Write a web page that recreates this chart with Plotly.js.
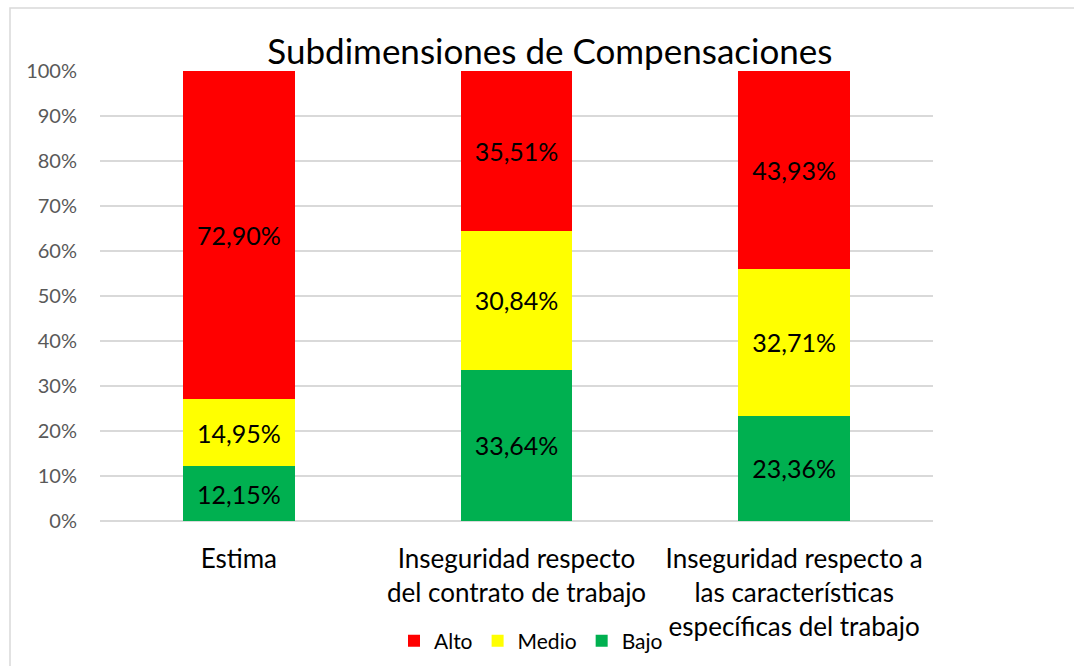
<!DOCTYPE html>
<html><head><meta charset="utf-8">
<script src="https://cdn.plot.ly/plotly-3.0.1.min.js"></script>
<style>body{margin:0;background:#fff}#c{width:1074px;height:666px}</style>
</head><body><div id="c"></div>
<script>
const categories = ["Estima", "Inseguridad respecto<br>del contrato de trabajo", "Inseguridad respecto a<br>las características<br>específicas del trabajo"];
const bajo = [12.15, 33.64, 23.36];
const medio = [14.95, 30.84, 32.71];
const alto = [72.90, 35.51, 43.93];
const tickVals = [0,10,20,30,40,50,60,70,80,90,100];
const tickText = tickVals.map(v => v + "%");
const fmt = a => a.map(v => v.toFixed(2).replace(".", ",") + "%");
const font = "Lato, 'Open Sans', sans-serif";
function tr(name, vals, color){
  return {type:"bar", name:name, x:categories, y:vals, marker:{color:color},
    text:fmt(vals), textposition:"inside", insidetextanchor:"middle",
    textfont:{family:font, size:25, color:"#000"}, hoverinfo:"skip"};
}
const data = [tr("Bajo", bajo, "#00b050"), tr("Medio", medio, "#ffff00"), tr("Alto", alto, "#ff0000")];
const layout = {
  width:1074, height:666, barmode:"stack", bargap:0.597,
  paper_bgcolor:"#fff", plot_bgcolor:"#fff",
  margin:{l:100, r:141, t:71, b:145, autoexpand:false},
  font:{family:font, color:"#000"},
  title:{text:"Subdimensiones de Compensaciones", font:{family:font, size:35, color:"#000"},
    x:0.512, xanchor:"center", y:1-52/666, yanchor:"middle", xref:"container", yref:"container"},
  xaxis:{tickfont:{family:font, size:26, color:"#000"}, showline:false, showgrid:false, ticks:"",
    ticklabelstandoff:20, automargin:false},
  yaxis:{range:[0,100], tickvals:tickVals, ticktext:tickText, tickfont:{family:font, size:20, color:"#595959"},
    gridcolor:"#d9d9d9", gridwidth:1.5, zeroline:true, zerolinecolor:"#d9d9d9", zerolinewidth:1.5,
    showline:false, ticks:"", ticklabelstandoff:22, automargin:false, fixedrange:true},
  legend:{orientation:"h", x:(668-100)/833, xanchor:"right", y:-0.267, yanchor:"middle", traceorder:"reversed",
    font:{family:font, size:21, color:"#000"}, itemwidth:30, bgcolor:"rgba(0,0,0,0)"},
  shapes:[{type:"rect", xref:"paper", yref:"paper", x0:(10-100)/833, x1:(1090-100)/833, y0:(521-690)/450, y1:(521-8)/450,
    line:{color:"#d9d9d9", width:1.5}, fillcolor:"rgba(0,0,0,0)"}],
  showlegend:true
};
Plotly.newPlot("c", data, layout, {displayModeBar:false, staticPlot:true});
</script></body></html>
